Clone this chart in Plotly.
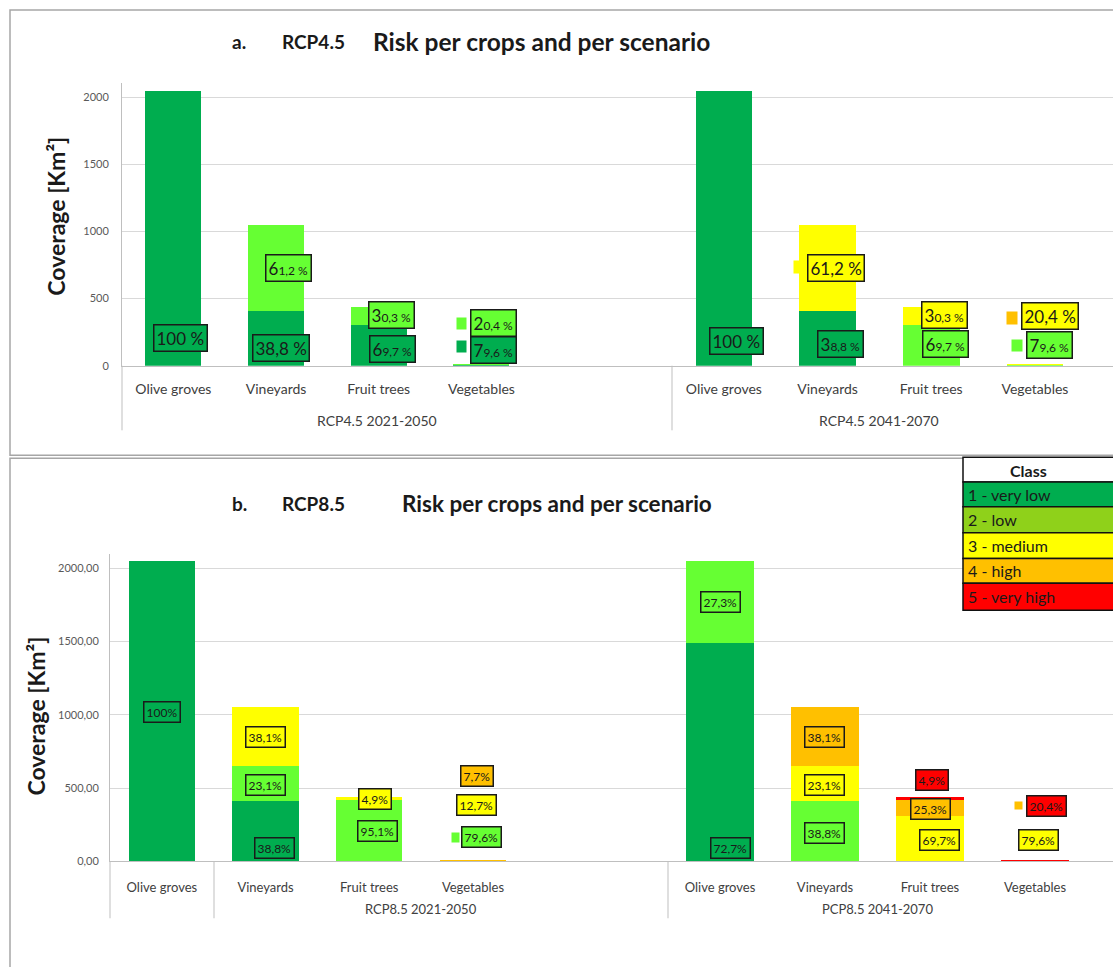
import plotly.graph_objects as go

W, H = 1113, 967

# ---------------- data ----------------
crops = ["Olive groves", "Vineyards", "Fruit trees", "Vegetables"]
crop_area = [2047, 1052, 440, 8]  # km²

scenarios = ["RCP4.5 2021-2050", "RCP4.5 2041-2070", "RCP8.5 2021-2050", "PCP8.5 2041-2070"]
class_names = ["1 - very low", "2 - low", "3 - medium", "4 - high", "5 - very high"]

# share (%) of each crop area per risk class
rcp45_2021_2050 = {1: [100, 38.8, 69.7, 79.6],
                   2: [0, 61.2, 30.3, 20.4]}
rcp45_2041_2070 = {1: [100, 38.8, 0, 0],
                   2: [0, 0, 69.7, 79.6],
                   3: [0, 61.2, 30.3, 20.4]}
rcp85_2021_2050 = {1: [100, 38.8, 0, 0],
                   2: [0, 23.1, 95.1, 79.6],
                   3: [0, 38.1, 4.9, 12.7],
                   4: [0, 0, 0, 7.7]}
rcp85_2041_2070 = {1: [72.7, 0, 0, 0],
                   2: [27.3, 38.8, 0, 0],
                   3: [0, 23.1, 69.7, 79.6],
                   4: [0, 38.1, 25.3, 0],
                   5: [0, 0, 4.9, 20.4]}
shares = [rcp45_2021_2050, rcp45_2041_2070, rcp85_2021_2050, rcp85_2041_2070]

# ---------------- styles ----------------
bar_colors = {1: "#00AD4F", 2: "#66FF33", 3: "#FFFF00", 4: "#FFC000", 5: "#FF0000"}
legend_colors = ["#00AD4F", "#8FD11A", "#FFFF00", "#FFC000", "#FF0000"]
FONT = "Lato"

def px(x):
    return x / W

def py(y):
    return 1 - y / H

# axis ids per scenario (x axis, y axis)
axis_of = [("x", "y"), ("x2", "y"), ("x3", "y2"), ("x4", "y2")]
bar_width = [0.545, 0.545, 0.64, 0.64]

fig = go.Figure()
for s, sh in enumerate(shares):
    xa, ya = axis_of[s]
    for c, pct in sh.items():
        vals = [a * p / 100 for a, p in zip(crop_area, pct)]
        fig.add_trace(go.Bar(
            x=crops, y=vals, xaxis=xa, yaxis=ya, width=bar_width[s],
            marker=dict(color=bar_colors[c], line=dict(width=0)),
            name=class_names[c - 1], showlegend=False, hoverinfo="skip"))

# label placement (y in data units, x shift in px, split-size text)
label_pos = {
    (0, 0, 1): (207, 7, False), (0, 1, 1): (133, 5, False), (0, 1, 2): (726, 12, True),
    (0, 2, 1): (126, 14, True), (0, 2, 2): (378, 13, True),
    (0, 3, 1): (119, 12, True), (0, 3, 2): (319, 12, True),
    (1, 0, 1): (185, 13, False), (1, 1, 1): (163, 13, True), (1, 1, 3): (726, 8, False),
    (1, 2, 2): (163, 14, True), (1, 2, 3): (378, 13, True),
    (1, 3, 2): (156, 15, True), (1, 3, 3): (370, 15, False),
    (2, 0, 1): (1022, 0, False), (2, 1, 1): (93, 9, False), (2, 1, 2): (520, 0, False),
    (2, 1, 3): (845, 0, False), (2, 2, 2): (208, 8, False), (2, 2, 3): (425, 6, False),
    (2, 3, 2): (168, 9, False), (2, 3, 3): (385, 4, False), (2, 3, 4): (581, 4, False),
    (3, 0, 1): (93, 10, False), (3, 0, 2): (1767, 0, False), (3, 1, 2): (195, -1, False),
    (3, 1, 3): (520, -1, False), (3, 1, 4): (845, -1, False), (3, 2, 3): (148, 9, False),
    (3, 2, 4): (358, 0, False), (3, 2, 5): (555, 2, False), (3, 3, 3): (148, 3, False),
    (3, 3, 5): (379, 11, False),
}
# small colour keys beside some labels: (scenario, crop, y, xshift, w, h, colour class)
key_marks = [
    (0, 3, 311, -20, 9, 11, 2), (0, 3, 141, -20, 9, 11, 1),
    (1, 1, 733, -31, 6, 12, 3), (1, 3, 356, -23, 10, 12, 4), (1, 3, 148, -18, 10, 11, 2),
    (2, 3, 161, -17, 7, 9, 2), (3, 3, 379, -17, 7, 7, 4),
]

def fmt(v):
    t = f"{v:.1f}".replace(".", ",")
    return "100" if v == 100 else t

annotations = []
for s, sh in enumerate(shares):
    xa, ya = axis_of[s]
    for c, pct in sh.items():
        for k, p in enumerate(pct):
            if p <= 0:
                continue
            yv, dx, split = label_pos[(s, k, c)]
            t = fmt(p)
            if s < 2:
                if split:
                    text = t[0] + f"<span style='font-size:12px'>{t[1:]} %</span>"
                else:
                    text = t + " %"
                size, pad = 17, 2
            else:
                text = t + "%"
                size, pad = 12, 2
            annotations.append(dict(
                x=crops[k], y=yv, xref=xa, yref=ya, xshift=dx, showarrow=False,
                text=text, font=dict(family=FONT, size=size, color="#1a1a1a"),
                bgcolor=bar_colors[c], bordercolor="#1a1a1a", borderwidth=1.5,
                borderpad=pad))

for (s, k, yv, dx, w, h, c) in key_marks:
    xa, ya = axis_of[s]
    annotations.append(dict(
        x=crops[k], y=yv, xref=xa, yref=ya, xshift=dx, showarrow=False,
        text=" ", font=dict(size=2), width=w, height=h, borderpad=0,
        bgcolor=bar_colors[c]))

# titles
def txt(x, y, text, size, bold=False, anchor="left", color="#1a1a1a", angle=0):
    annotations.append(dict(
        x=px(x), y=py(y), xref="paper", yref="paper", showarrow=False,
        text=f"<b>{text}</b>" if bold else text, textangle=angle,
        xanchor=anchor, yanchor="middle",
        font=dict(family=FONT, size=size, color=color)))

txt(230, 42, "a.", 19, True)
txt(280, 42, "RCP4.5", 19, True)
txt(371, 42, "Risk per crops and per scenario", 24.5, True)
txt(230, 507, "b.", 19, True)
txt(280, 507, "RCP8.5", 19, True)
txt(400, 507, "Risk per crops and per scenario", 22.5, True)
txt(56, 218, "Coverage [Km²]", 23, True, "center", angle=-90)
txt(36, 721, "Coverage [Km²]", 23, True, "center", angle=-90)

# scenario group labels
txt(377, 423, scenarios[0], 14, False, "center", "#404040")
txt(879, 423, scenarios[1], 14, False, "center", "#404040")
txt(421, 915, scenarios[2], 13, False, "center", "#404040")
txt(877, 915, scenarios[3], 13, False, "center", "#404040")

# legend table
shapes = []
row_y = [460, 485, 510, 536, 562, 587, 614]
shapes.append(dict(type="rect", xref="paper", yref="paper", x0=px(963), x1=px(1130),
                   y0=py(row_y[0]), y1=py(row_y[1]), fillcolor="white",
                   line=dict(color="#111", width=1.5)))
txt(1028, 473, "Class", 16, True, "center")
for i, name in enumerate(class_names):
    shapes.append(dict(type="rect", xref="paper", yref="paper", x0=px(963), x1=px(1130),
                       y0=py(row_y[i + 1]), y1=py(row_y[i + 2]), fillcolor=legend_colors[i],
                       line=dict(color="#111", width=1.5)))
    txt(966, (row_y[i + 1] + row_y[i + 2]) / 2, name, 16, False, "left")

# panel frames
frame = dict(color="#A6A6A6", width=1.5)
shapes.append(dict(type="rect", xref="paper", yref="paper", x0=px(10), x1=px(1130),
                   y0=py(458), y1=py(10), line=frame, layer="below"))
shapes.append(dict(type="rect", xref="paper", yref="paper", x0=px(10), x1=px(1130),
                   y0=py(990), y1=py(461), line=frame, layer="below"))
# category group separators
sep = dict(color="#BFBFBF", width=1)
for x in (122, 672):
    shapes.append(dict(type="line", xref="paper", yref="paper", x0=px(x), x1=px(x),
                       y0=py(368), y1=py(433), line=sep))
for x in (110, 214, 668):
    shapes.append(dict(type="line", xref="paper", yref="paper", x0=px(x), x1=px(x),
                       y0=py(867), y1=py(924), line=sep))

tickfont_y = dict(family=FONT, size=11, color="#595959")
yax = dict(showgrid=True, gridcolor="#D9D9D9", gridwidth=1, showline=True,
           linecolor="#BFBFBF", ticks="", zeroline=False, tickfont=tickfont_y)
cat_x = dict(type="category", categoryorder="array", categoryarray=crops, showgrid=False,
             showline=True, linecolor="#BFBFBF", zeroline=False, ticks="")

def slot_range(x0, x1, slot):
    return [-0.5, -0.5 + (x1 - x0) / slot]

fig.update_layout(
    width=W, height=H, margin=dict(l=0, r=0, t=0, b=0),
    paper_bgcolor="white", plot_bgcolor="rgba(0,0,0,0)",
    barmode="stack", separators=", ", showlegend=False,
    font=dict(family=FONT),
    yaxis=dict(yax, domain=[py(368), py(84)], range=[0, 2103.7], dtick=500,
               anchor="x", ticklabelstandoff=10),
    xaxis=dict(cat_x, domain=[px(122), px(672)], range=slot_range(122, 672, 102.7),
               anchor="y", ticklabelstandoff=10,
               tickfont=dict(family=FONT, size=14, color="#404040")),
    xaxis2=dict(cat_x, domain=[px(672), 1], range=slot_range(672, W, 103.7),
                anchor="y", ticklabelstandoff=10,
                tickfont=dict(family=FONT, size=14, color="#404040")),
    yaxis2=dict(yax, domain=[py(866.7), py(557)], range=[0, 2099.7], dtick=500,
                tickformat=".2f", anchor="x3", ticklabelstandoff=8),
    xaxis3=dict(cat_x, domain=[px(110), px(667.5)], range=slot_range(110, 667.5, 103.7),
                anchor="y2", ticklabelstandoff=14,
                tickfont=dict(family=FONT, size=13, color="#404040")),
    xaxis4=dict(cat_x, domain=[px(667.5), 1], range=slot_range(667.5, W, 105),
                anchor="y2", ticklabelstandoff=14,
                tickfont=dict(family=FONT, size=13, color="#404040")),
    annotations=annotations, shapes=shapes,
)

fig.write_html("out.html")
